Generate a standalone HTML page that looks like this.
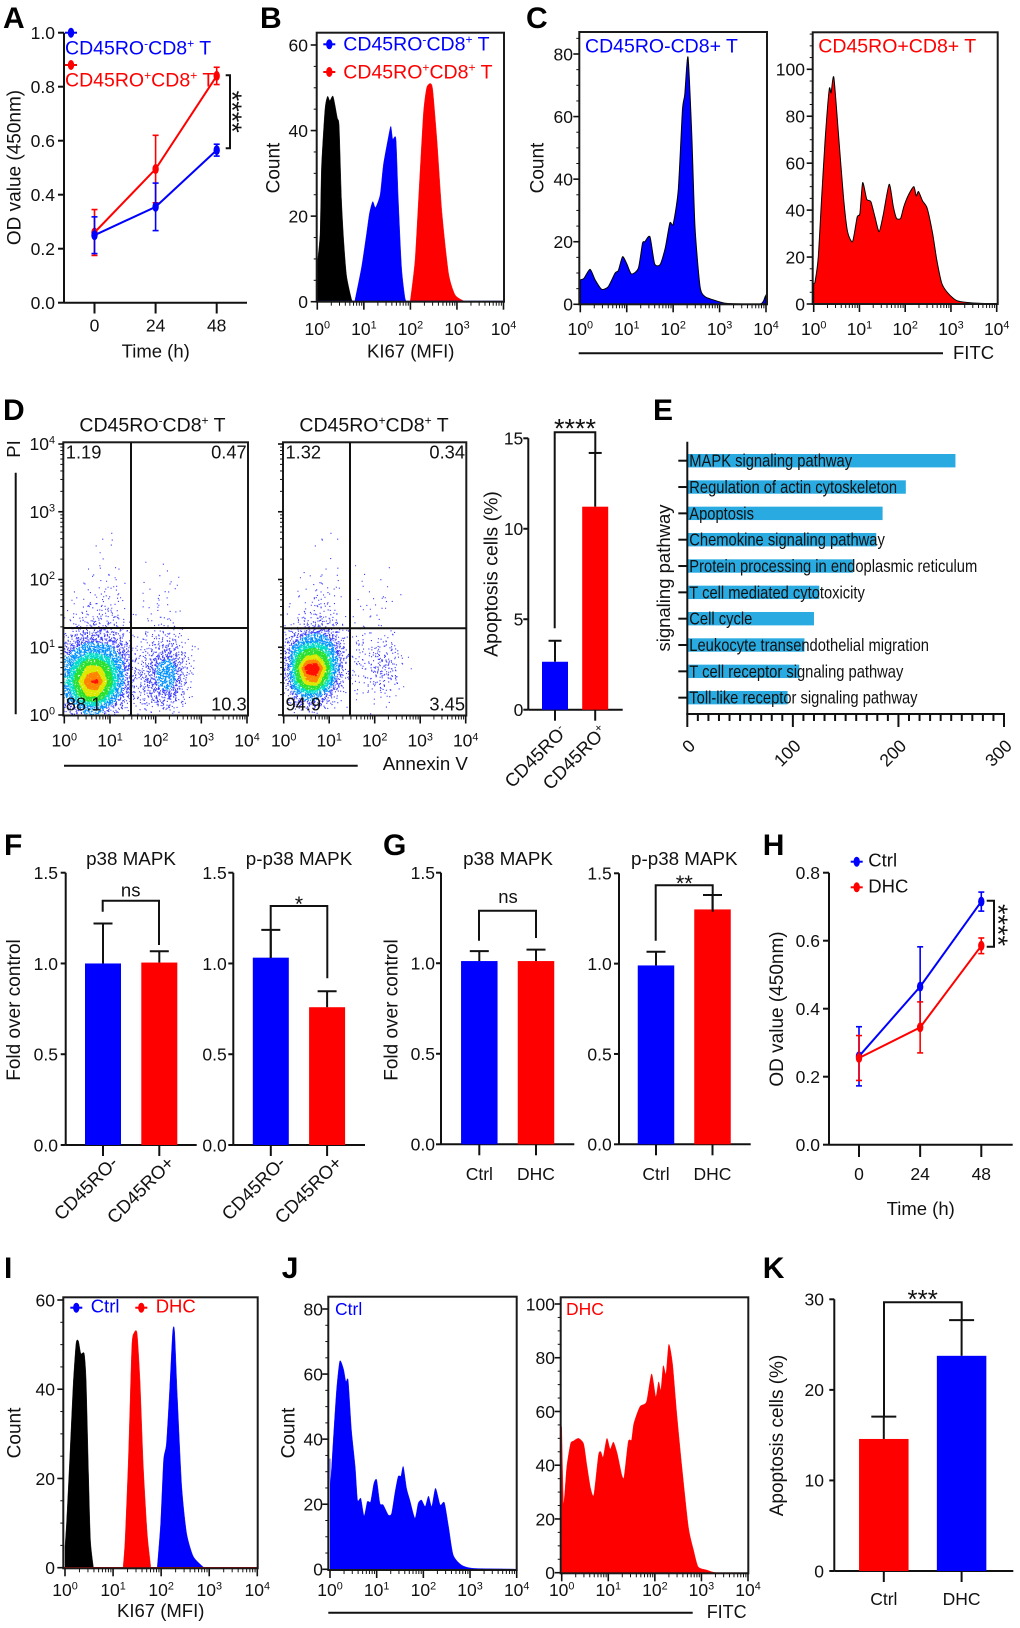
<!DOCTYPE html>
<html lang="en">
<head>
<meta charset="utf-8">
<title>CD45RO CD8 T cell figure</title>
<style>
html,body{margin:0;padding:0;background:#fff;}
svg{display:block;font-family:"Liberation Sans",Arial,sans-serif;}
text{white-space:pre;fill:#111;}
</style>
</head>
<body>
<svg id="figure" xmlns="http://www.w3.org/2000/svg" width="1020" height="1628" viewBox="0 0 1020 1628">
  <rect x="0" y="0" width="1020" height="1628" fill="#fff"/>
  <g id="panel-a"></g>
  <g id="panel-b"></g>
  <g id="panel-c"></g>
  <g id="panel-d"></g>
  <g id="panel-e"></g>
  <g id="panel-f"></g>
  <g id="panel-g"></g>
  <g id="panel-h"></g>
  <g id="panel-i"></g>
  <g id="panel-j"></g>
  <g id="panel-k"></g>
</svg>
<script>
/* ---------- Panel A ---------- */
const aTimes=[0,24,48];
const aTimeLabels=['0','24','48'];
const aTicks=[0,0.2,0.4,0.6,0.8,1.0];
const aTickLabels=['0.0','0.2','0.4','0.6','0.8','1.0'];
const aBlue=[0.25,0.355,0.565];
const aBlueErr=[0.068,0.088,0.022];
const aRed=[0.26,0.495,0.84];
const aRedErr=[0.085,0.125,0.032];

/* ---------- Shared flow axis ---------- */
const logDecades=[0,1,2,3,4];
const logExponents=['0','1','2','3','4'];

/* ---------- Panel B (decade = log10 MFI, count) ---------- */
const bTicks=[0,20,40,60];
const bBlackDec=[0,0.06,0.09,0.165,0.22,0.27,0.34,0.43,0.47,0.52,0.57,0.63,0.74,0.79];
const bBlackCount=[9,16,31.5,45,48,47,48,43,41,24,14,6,0.4,0];
const bBlueDec=[0.81,0.95,1.06,1.12,1.19,1.25,1.35,1.42,1.53,1.58,1.62,1.69,1.74,1.81,1.885,1.935];
const bBlueCount=[0.4,8,16,20.6,23.4,22,25,32,38.6,41,38,38,24,8,0.8,0];
const bRedDec=[2.0,2.1,2.19,2.28,2.35,2.43,2.48,2.57,2.68,2.82,2.96,3.14];
const bRedCount=[0.4,9.7,26.9,44,50,51,49.5,37.8,20.6,6.6,1.6,0.2];

/* ---------- Panel C ---------- */
const cLeftTicks=[0,20,40,60,80];
const cLeftDec=[0,0.08,0.21,0.32,0.46,0.6,0.75,0.82,0.91,1.0,1.1,1.25,1.34,1.39,1.5,1.6,1.72,1.83,1.93,2.0,2.11,2.2,2.25,2.32,2.4,2.47,2.58,2.69,2.87,3.15,3.87,3.98,4];
const cLeftCount=[7.8,8.3,11.2,7.8,4.8,5.6,10,10.8,15.2,13,9.7,11.5,19.5,20,21.6,13,12.7,18,26,25.6,36.5,62,67,79,54.6,24.8,5.6,2.4,1.4,0.3,0.1,2.4,3];
const cRightTicks=[0,20,40,60,80,100];
const cRightDec=[0,0.03,0.1,0.17,0.25,0.34,0.38,0.44,0.54,0.65,0.74,0.85,0.95,1.01,1.07,1.16,1.25,1.34,1.43,1.52,1.65,1.74,1.81,1.9,1.97,2.07,2.19,2.24,2.29,2.38,2.48,2.6,2.69,2.8,2.94,3.13,3.45,4];
const cRightCount=[8.8,9.5,20,44,70,91.5,90,96.6,72.7,45.7,30.8,26.6,37,38.6,51.7,44.6,43.6,37,30.8,38,51,41.5,36.5,36.5,41.5,46.4,50,46,47.9,43.9,40.8,30,18.8,8.8,4.5,1.4,0.5,0];

/* ---------- Panel D: events per 0.2 x 0.2 decade bin, rows top (PI 2.6-2.8) to bottom (PI 0-0.2) ---------- */
const dLeftBins=[
[0,0,0,0,0,2,0,0,0,0,0,0,0,0,0],
[0,0,0,2,1,1,0,0,0,0,0,0,0,0,0],
[0,0,0,1,1,1,0,0,0,1,0,0,0,0,0],
[0,0,1,2,2,3,0,0,0,0,1,2,1,0,0],
[0,1,2,3,4,5,1,0,1,1,2,3,1,0,0],
[1,3,4,6,8,6,2,0,2,2,3,3,0,0,0],
[3,5,8,12,12,8,3,1,2,3,4,3,1,0,0],
[8,14,20,24,22,16,8,3,3,4,8,8,2,0,0],
[30,45,60,60,55,40,25,6,5,10,18,22,10,2,0],
[70,110,150,150,130,90,50,14,10,25,45,55,30,6,1],
[120,220,330,340,260,150,70,20,20,50,90,110,50,10,1],
[150,300,420,450,320,170,70,20,22,50,90,100,45,8,0],
[110,220,320,320,220,110,40,15,18,35,50,55,25,4,0],
[30,60,80,90,60,25,8,4,4,8,12,12,4,0,0]];
const dRightBins=[
[0,0,0,0,1,2,0,0,0,0,0,0,0,0,0],
[0,0,0,1,1,0,0,0,0,0,0,0,0,0,0],
[0,0,0,0,0,1,0,1,0,0,0,0,0,0,0],
[0,0,1,2,2,2,0,0,1,1,0,1,0,0,0],
[0,1,2,4,4,3,1,0,1,0,1,2,0,0,0],
[1,2,4,6,7,6,1,0,2,3,3,2,1,0,0],
[2,4,6,12,12,6,1,0,3,3,1,1,0,0,0],
[4,14,25,34,30,14,4,1,3,2,2,2,0,0,0],
[20,70,110,120,100,50,15,4,6,6,6,8,2,0,0],
[50,200,280,300,220,90,25,8,8,10,18,18,6,1,0],
[60,280,480,500,320,120,25,8,8,12,28,28,8,1,0],
[40,220,360,380,220,70,12,4,6,10,18,15,4,0,0],
[12,70,110,100,50,15,3,1,2,3,5,4,1,0,0],
[0,4,12,12,4,1,0,0,0,1,1,0,0,0,0]];
const dLeftQuadrants=['1.19','0.47','88.1','10.3'];
const dRightQuadrants=['1.32','0.34','94.9','3.45'];
const dBarTicks=[0,5,10,15];
const dBarVals=[2.65,11.22];
const dBarErrs=[1.16,2.97];

/* ---------- Panel E ---------- */
const ePathways=['MAPK signaling pathway','Regulation of actin cytoskeleton','Apoptosis','Chemokine signaling pathway','Protein processing in endoplasmic reticulum','T cell mediated cytotoxicity','Cell cycle','Leukocyte transendothelial migration','T cell receptor signaling pathway','Toll-like receptor signaling pathway'];
const eCounts=[254,207,185,179,157,125,120,111,106,95];
const eTicks=[0,100,200,300];

/* ---------- Panels F, G ---------- */
const fgTicks=[0,0.5,1.0,1.5];
const fgTickLabels=['0.0','0.5','1.0','1.5'];
const f1Vals=[1.0,1.005];
const f1Errs=[0.22,0.062];
const f2Vals=[1.032,0.759];
const f2Errs=[0.153,0.088];
const g1Vals=[1.012,1.012];
const g1Errs=[0.055,0.063];
const g2Vals=[0.99,1.30];
const g2Errs=[0.076,0.08];
const groupCats=['Ctrl','DHC'];

/* ---------- Panel H ---------- */
const hTimes=[0,24,48];
const hTimeLabels=['0','24','48'];
const hTicks=[0,0.2,0.4,0.6,0.8];
const hTickLabels=['0.0','0.2','0.4','0.6','0.8'];
const hBlue=[0.26,0.465,0.715];
const hBlueErr=[0.087,0.117,0.028];
const hRed=[0.255,0.345,0.585];
const hRedErr=[0.066,0.075,0.023];

/* ---------- Panel I ---------- */
const iTicks=[0,20,40,60];
const iBlackDec=[0,0.035,0.10,0.17,0.23,0.28,0.33,0.40,0.44,0.49,0.53,0.59];
const iBlackCount=[4.7,10.7,24.9,41,50.3,50.8,48,48,42,21,6.2,0.2];
const iRedDec=[1.21,1.25,1.32,1.39,1.44,1.50,1.56,1.63,1.71,1.78];
const iRedCount=[0.2,6.2,24.9,49.6,52.7,52.5,42,22.6,7.7,0.6];
const iBlueDec=[1.92,1.99,2.05,2.11,2.18,2.24,2.28,2.34,2.43,2.53,2.67,2.88];
const iBlueCount=[0.2,10,24,27.9,40.6,52.9,52.9,37.6,18,7.7,2.5,0.1];

/* ---------- Panel J ---------- */
const jLeftTicks=[0,20,40,60,80];
const jLeftDec=[0,0.01,0.07,0.14,0.21,0.29,0.34,0.39,0.46,0.54,0.59,0.66,0.73,0.8,0.87,0.94,1.0,1.07,1.14,1.25,1.32,1.39,1.46,1.52,1.57,1.64,1.71,1.82,1.89,1.96,2.04,2.11,2.18,2.26,2.36,2.45,2.54,2.64,2.82,3.07,3.86,4];
const jLeftCount=[34,26,39.7,55,64,61.5,57.7,58,42.8,31.5,21.3,21.8,16.4,20.8,20.8,26.4,27.5,20.3,19.8,16.7,17.2,23.4,28.5,28.7,31.6,24.9,21.3,15.7,20.3,21.3,19.3,22.5,19.3,24.9,19.8,20.5,13.1,4.4,1.3,0.3,0.1,0];
const jRightTicks=[0,20,40,60,80,100];
const jRightDec=[0,0.04,0.11,0.19,0.25,0.36,0.47,0.54,0.62,0.69,0.79,0.84,0.89,0.97,1.04,1.11,1.19,1.29,1.34,1.43,1.5,1.55,1.68,1.82,1.93,2.02,2.08,2.13,2.18,2.24,2.3,2.38,2.47,2.58,2.72,2.83,2.93,3.11,3.33,4];
const jRightCount=[54.3,25.8,39.5,48,49,50,48,40,31.4,29,43.8,45,43,50,46,48.6,44.5,36.4,35.7,48.8,49.4,55.6,61.8,63.6,74,65.5,71,68,77,74,85,77.7,59.3,39.5,17,8.4,2.2,1,0,0];

/* ---------- Panel K ---------- */
const kTicks=[0,10,20,30];
const kVals=[14.58,23.76];
const kErrs=[2.47,3.94];

/* ---------- Drawing helpers ---------- */
const NS='http://www.w3.org/2000/svg';
const INK='#111';
const BLUE='#0000ff';
const RED='#ff0000';
const TICK_FS=17.5;
const LABEL_FS=19;

function mk(parent,tag,attrs,name){
  const el=document.createElementNS(NS,tag);
  for(const k in attrs){el.setAttribute(k,attrs[k]);}
  
  
  parent.appendChild(el);
  return el;
}
function linear(v0,p0,v1,p1){return v=>p0+(v-v0)*(p1-p0)/(v1-v0);}
function seg(g,x1,y1,x2,y2,name,stroke,w){
  return mk(g,'line',{x1:x1,y1:y1,x2:x2,y2:y2,stroke:stroke||INK,'stroke-width':w||2},name);
}
function txt(g,x,y,s,name,o){
  o=o||{};
  const a={x:x,y:y,'font-size':o.size||TICK_FS,'text-anchor':o.anchor||'start'};
  a.style='fill:'+(o.fill||INK);
  if(o.weight){a['font-weight']=o.weight;}
  if(o.rot!==undefined){a.transform='rotate('+o.rot+' '+x+' '+y+')';}
  if(o.transform){a.transform=o.transform;a.x=0;a.y=0;}
  const el=mk(g,'text',a,name);
  el.textContent=s;
  return el;
}
function rich(g,x,y,parts,name,o){
  o=o||{};
  const size=o.size||TICK_FS;
  const a={x:x,y:y,'font-size':size,'text-anchor':o.anchor||'start'};
  a.style='fill:'+(o.fill||INK);
  if(o.rot!==undefined){a.transform='rotate('+o.rot+' '+x+' '+y+')';}
  const el=mk(g,'text',a,name);
  let raised=false;
  parts.forEach(p=>{
    const sup=p[1]===1;
    const ta={};
    if(sup&&!raised){ta.dy=-size*0.36;}
    if(!sup&&raised){ta.dy=size*0.36;}
    if(sup){ta['font-size']=size*0.62;}
    raised=sup;
    const ts=mk(el,'tspan',ta,sup?'superscript':'text-run');
    ts.textContent=p[0];
  });
  return el;
}
function poly(g,pts,name,stroke,w){
  return mk(g,'polyline',{points:pts.map(p=>p.join(',')).join(' '),fill:'none',stroke:stroke||INK,'stroke-width':w||2},name);
}
function letter(g,x,y,s){
  txt(g,x,y,s,'panel-letter-'+s.toLowerCase(),{size:30,weight:'bold',fill:'#000'});
}
function yTitle(g,x,y,s,name,size){
  txt(g,x,y,s,name,{size:size||LABEL_FS,anchor:'middle',rot:-90});
}
function stars(g,x,y,s,size,rot){
  const o={size:size,anchor:'middle'};
  if(rot!==undefined){o.rot=rot;}
  txt(g,x,y,s,'significance-stars',o);
}
function yTicks(g,x,scale,ticks,labels,endX,len){
  ticks.forEach((t,i)=>{
    seg(g,x-len,scale(t),x,scale(t),'y-tick');
    txt(g,endX,scale(t)+6.3,labels[i],'y-tick-label',{anchor:'end'});
  });
}
function legendMark(g,x,y,color){
  seg(g,x-6,y,x+6,y,'legend-line',color,2);
  mk(g,'ellipse',{cx:x,cy:y,rx:3.2,ry:5,fill:color},'legend-marker');
}
function trendSeries(g,xScale,yScale,times,vals,errs,color,name){
  const pts=times.map((t,i)=>[xScale(t),yScale(vals[i])]);
  poly(g,pts,name+'-line',color,2);
  times.forEach((t,i)=>{
    const x=xScale(t);
    seg(g,x,yScale(vals[i]-errs[i]),x,yScale(vals[i]+errs[i]),name+'-error-bar',color,1.6);
    seg(g,x-3,yScale(vals[i]+errs[i]),x+3,yScale(vals[i]+errs[i]),name+'-error-cap',color,1.6);
    seg(g,x-3,yScale(vals[i]-errs[i]),x+3,yScale(vals[i]-errs[i]),name+'-error-cap',color,1.6);
    mk(g,'ellipse',{cx:x,cy:yScale(vals[i]),rx:3.2,ry:5,fill:color},name+'-point');
  });
}
function histogram(g,xScale,yScale,decs,counts,fill,stroke,name){
  const pts=decs.map((v,i)=>[xScale(v),yScale(counts[i])]);
  const base=yScale(0);
  let d='M'+pts[0][0].toFixed(2)+' '+base+' L'+pts[0][0].toFixed(2)+' '+pts[0][1].toFixed(2);
  for(let i=0;i<pts.length-1;i++){
    const p0=pts[Math.max(0,i-1)],p1=pts[i],p2=pts[i+1],p3=pts[Math.min(pts.length-1,i+2)];
    const t=0.11;
    const c1x=p1[0]+(p2[0]-p0[0])*t,c1y=Math.min(base,p1[1]+(p2[1]-p0[1])*t);
    const c2x=p2[0]-(p3[0]-p1[0])*t,c2y=Math.min(base,p2[1]-(p3[1]-p1[1])*t);
    d+=' C'+c1x.toFixed(2)+' '+c1y.toFixed(2)+' '+c2x.toFixed(2)+' '+c2y.toFixed(2)+' '+p2[0].toFixed(2)+' '+p2[1].toFixed(2);
  }
  d+=' L'+pts[pts.length-1][0].toFixed(2)+' '+base+' Z';
  const a={d:d,fill:fill};
  if(stroke){a.stroke=stroke;a['stroke-width']=1;a['stroke-linejoin']='round';}
  else{a.stroke=fill;a['stroke-width']=0.4;}
  mk(g,'path',a,name);
}
function box(g,x0,y0,x1,y1,name){
  mk(g,'rect',{x:x0,y:y0,width:x1-x0,height:y1-y0,fill:'none',stroke:'#1a1a1a','stroke-width':2},name);
}
function logXAxis(g,scale,y,labelY,major,minor,withLabels){
  logDecades.forEach((d,i)=>{
    seg(g,scale(d),y,scale(d),y+major,'x-major-tick',INK,1.6);
    if(i<logDecades.length-1){
      for(let m=2;m<10;m++){
        const p=scale(d+Math.log10(m));
        seg(g,p,y,p,y+minor,'x-minor-tick',INK,1);
      }
    }
    if(withLabels!==false){
      rich(g,scale(d),labelY,[['10',0],[logExponents[i],1]],'x-tick-label',{anchor:'middle'});
    }
  });
}
function logYAxis(g,scale,x,endX,major,minor,withLabels){
  logDecades.forEach((d,i)=>{
    seg(g,x-major,scale(d),x,scale(d),'y-major-tick',INK,1.6);
    if(i<logDecades.length-1){
      for(let m=2;m<10;m++){
        const p=scale(d+Math.log10(m));
        seg(g,x-minor,p,x,p,'y-minor-tick',INK,1);
      }
    }
    if(withLabels!==false){
      rich(g,endX,scale(d)+6,[['10',0],[logExponents[i],1]],'y-tick-label',{anchor:'end'});
    }
  });
}
function countAxis(g,x,scale,ticks,endX,minorStep,frameTop){
  for(let v=0;scale(v)>frameTop+1;v+=minorStep){
    if(ticks.indexOf(v)<0){seg(g,x-3,scale(v),x,scale(v),'y-minor-tick',INK,1);}
  }
  ticks.forEach(t=>{
    seg(g,x-6,scale(t),x,scale(t),'y-major-tick',INK,1.6);
    txt(g,endX,scale(t)+6.3,String(t),'y-tick-label',{anchor:'end'});
  });
}
function barPanel(g,c){
  seg(g,c.axisX,c.scale(c.ticks[c.ticks.length-1]),c.axisX,c.scale(0),'y-axis');
  seg(g,c.axisX,c.scale(0),c.axisEnd,c.scale(0),'x-axis');
  yTicks(g,c.axisX,c.scale,c.ticks,c.labels,c.endX,5);
  c.vals.forEach((v,i)=>{
    const cx=c.center0+i*c.step;
    const y=c.scale(v);
    mk(g,'rect',{x:cx-c.barW/2,y:y,width:c.barW,height:c.scale(0)-y,fill:c.colors[i]},'bar-'+(i+1));
    const top=c.scale(v+c.errs[i]);
    seg(g,cx,y,cx,top,'bar-error-stem');
    seg(g,cx-c.capW/2,top,cx+c.capW/2,top,'bar-error-cap');
    seg(g,cx,c.scale(0),cx,c.scale(0)+11,'x-tick');
    if(c.catParts){
      rich(g,cx+c.catDx,c.catY,c.catParts[i],'category-label',{anchor:'end',rot:-45,size:c.catSize||18.5});
    }else{
      txt(g,cx,c.catY,c.cats[i],'category-label',{anchor:'middle'});
    }
  });
}
function halton(i,b){let f=1,r=0;while(i>0){f/=b;r+=f*(i%b);i=Math.floor(i/b);}return r;}
const densityColors=['#1a1aff','#0090ff','#00dcc8','#28e030','#dce800','#ff8400','#ff1000'];
const densityLevels=[0,70,140,210,300,370,430];
function densityAt(bins,c,r){
  /* bilinear lookup on bin centres; r counts from the bottom row */
  const nR=bins.length,nC=bins[0].length;
  const cc=Math.max(0,Math.min(nC-1.001,c-0.5));
  const rr=Math.max(0,Math.min(nR-1.001,r-0.5));
  const c0=Math.floor(cc),r0=Math.floor(rr),fc=cc-c0,fr=rr-r0;
  const at=(ri,ci)=>bins[nR-1-ri][ci];
  return at(r0,c0)*(1-fc)*(1-fr)+at(r0,c0+1)*fc*(1-fr)+at(r0+1,c0)*(1-fc)*fr+at(r0+1,c0+1)*fc*fr;
}
function flowPlot(g,bins,xScale,yScale,binSize,xMin,xMax,yMin,yMax,name){
  const paths=densityColors.map(()=> '');
  let seq=1;
  const nR=bins.length;
  bins.forEach((row,ri)=>{
    const bottomIdx=nR-1-ri;
    row.forEach((n,ci)=>{
      for(let k=0;k<n;k++){
        const u=halton(seq,2)+halton(seq,5)-1,v=halton(seq,3)+halton(seq,7)-1;seq++;
        const cf=ci+0.5+u*1.05;
        const rf=bottomIdx+0.5+v*1.05;
        const px=xScale(cf*binSize),py=yScale(rf*binSize);
        if(py>yMin-1||py<yMax||px>xMax||px<xMin){continue;}
        const d=densityAt(bins,cf,rf);
        let lvl=0;
        densityLevels.forEach((t,i)=>{if(d>=t){lvl=i;}});
        paths[lvl]+='M'+px.toFixed(1)+' '+py.toFixed(1)+'h1.1v1.1h-1.1z';
      }
    });
  });
  paths.forEach((d,i)=>{
    if(d){mk(g,'path',{d:d,fill:densityColors[i],'fill-opacity':i===0?0.85:1},name+'-density-level-'+i);}
  });
}

/* ---------- Panel A draw ---------- */
(function(){
  const g=document.getElementById('panel-a');
  letter(g,3,28,'A');
  const y=linear(0,302.7,1,32.7),x=linear(0,94.5,48,216.7);
  seg(g,64,y(1),64,y(0),'y-axis');
  seg(g,64,y(0),247,y(0),'x-axis');
  yTicks(g,64,y,aTicks,aTickLabels,55,6);
  aTimes.forEach((t,i)=>{
    seg(g,x(t),y(0),x(t),313.5,'x-tick');
    txt(g,x(t),331.7,aTimeLabels[i],'x-tick-label',{anchor:'middle'});
  });
  txt(g,155.7,357.3,'Time (h)','x-axis-title',{anchor:'middle',size:18.5});
  yTitle(g,20.7,167.5,'OD value (450nm)','y-axis-title');
  trendSeries(g,x,y,aTimes,aRed,aRedErr,RED,'series-cd45ro-positive');
  trendSeries(g,x,y,aTimes,aBlue,aBlueErr,BLUE,'series-cd45ro-negative');
  legendMark(g,71,32.7,BLUE);
  rich(g,65,54.3,[['CD45RO',0],['-',1],['CD8',0],['+',1],[' T',0]],'legend-label-negative',{size:19.5,fill:BLUE});
  legendMark(g,71,65,RED);
  rich(g,65,86.7,[['CD45RO',0],['+',1],['CD8',0],['+',1],[' T',0]],'legend-label-positive',{size:19.5,fill:RED});
  poly(g,[[225.7,75.3],[230,75.3],[230,148.3],[225.7,148.3]],'significance-bracket');
  stars(g,223,111.7,'****',27,90);
})();

/* ---------- Panel B draw ---------- */
(function(){
  const g=document.getElementById('panel-b');
  letter(g,260,28,'B');
  const x=linear(0,317.3,4,503.5),y=linear(0,301.7,60,45);
  histogram(g,x,y,bBlackDec,bBlackCount,'#000',null,'histogram-isotype');
  histogram(g,x,y,bBlueDec,bBlueCount,BLUE,null,'histogram-cd45ro-negative');
  histogram(g,x,y,bRedDec,bRedCount,RED,null,'histogram-cd45ro-positive');
  seg(g,317,y(0)-0.5,504,y(0)-0.5,'histogram-baseline',BLUE,1);
  box(g,316.7,32.7,504,301.7,'plot-frame');
  countAxis(g,316.7,y,bTicks,308,5,32.7);
  logXAxis(g,x,301.7,335,8,4);
  txt(g,410.7,357.3,'KI67 (MFI)','x-axis-title',{anchor:'middle',size:18.5});
  yTitle(g,279.5,168,'Count','y-axis-title');
  legendMark(g,329.3,44.3,BLUE);
  rich(g,343.3,50.7,[['CD45RO',0],['-',1],['CD8',0],['+',1],[' T',0]],'legend-label-negative',{size:19.5,fill:BLUE});
  legendMark(g,329.3,72,RED);
  rich(g,343.3,78.3,[['CD45RO',0],['+',1],['CD8',0],['+',1],[' T',0]],'legend-label-positive',{size:19.5,fill:RED});
})();

/* ---------- Panel C draw ---------- */
(function(){
  const g=document.getElementById('panel-c');
  letter(g,526,28,'C');
  const x1=linear(0,580.3,4,766),y1=linear(0,304.3,80,54);
  histogram(g,x1,y1,cLeftDec,cLeftCount,BLUE,'#000','histogram-cd45ro-negative');
  box(g,579.3,32,767,304.3,'plot-frame-left');
  countAxis(g,579.3,y1,cLeftTicks,573,5,32);
  logXAxis(g,x1,304.3,335,8,4);
  txt(g,585,52.7,'CD45RO-CD8+ T','plot-title-left',{size:19.5,fill:BLUE});
  const x2=linear(0,813.7,4,996.7),y2=linear(0,304,100,69.3);
  histogram(g,x2,y2,cRightDec,cRightCount,RED,'#000','histogram-cd45ro-positive');
  box(g,812.7,32.3,997.7,304,'plot-frame-right');
  countAxis(g,812.7,y2,cRightTicks,805,5,32.3);
  logXAxis(g,x2,304,335,8,4);
  txt(g,818.3,52.7,'CD45RO+CD8+ T','plot-title-right',{size:19.5,fill:RED});
  yTitle(g,543.3,168,'Count','y-axis-title');
  seg(g,578.7,353.3,943,353.3,'fitc-axis-line');
  txt(g,953,359,'FITC','x-axis-title',{size:18.5});
})();

/* ---------- Panel D draw ---------- */
(function(){
  const g=document.getElementById('panel-d');
  letter(g,3,420,'D');
  const y=linear(0,715,4,444);
  const plots=[
    {bins:dLeftBins,q:dLeftQuadrants,x0:63.3,x1:248,gx:131,gy:628,sx:linear(0,64.3,4,247),name:'flow-plot-negative',labels:true},
    {bins:dRightBins,q:dRightQuadrants,x0:283,x1:466.3,gx:350,gy:628.3,sx:linear(0,283.7,4,465.7),name:'flow-plot-positive',labels:false}
  ];
  plots.forEach(p=>{
    flowPlot(g,p.bins,p.sx,y,0.2,p.x0,p.x1,715,442.3,p.name);
    box(g,p.x0,442.3,p.x1,715.5,p.name+'-frame');
    seg(g,p.gx,442.3,p.gx,715.5,p.name+'-vertical-gate');
    seg(g,p.x0,p.gy,p.x1,p.gy,p.name+'-horizontal-gate');
    logYAxis(g,y,p.x0,55,5,3,p.labels);
    logXAxis(g,p.sx,715.5,746.7,8,4);
    txt(g,p.x0+2.5,458.3,p.q[0],'quadrant-upper-left',{size:18.3});
    txt(g,p.x1-1.3,458.3,p.q[1],'quadrant-upper-right',{size:18.3,anchor:'end'});
    txt(g,p.x0+2.5,710.7,p.q[2],'quadrant-lower-left',{size:18.3});
    txt(g,p.x1-1.3,710.7,p.q[3],'quadrant-lower-right',{size:18.3,anchor:'end'});
  });
  rich(g,152.5,431.7,[['CD45RO',0],['-',1],['CD8',0],['+',1],[' T',0]],'plot-title-negative',{anchor:'middle',size:19.5});
  rich(g,374,431.7,[['CD45RO',0],['+',1],['CD8',0],['+',1],[' T',0]],'plot-title-positive',{anchor:'middle',size:19.5});
  txt(g,20,449,'PI','y-axis-title',{anchor:'middle',size:18.5,rot:-90});
  seg(g,15.7,472.7,15.7,714.3,'pi-axis-line');
  seg(g,64,765.7,357.7,765.7,'annexin-axis-line');
  txt(g,382.7,770,'Annexin V','x-axis-title',{size:18.7});
  const ys=linear(0,709.7,15,438.3);
  barPanel(g,{axisX:528.3,axisEnd:622.7,scale:ys,ticks:dBarTicks,labels:dBarTicks.map(String),endX:523.3,
    center0:555,step:40.2,barW:26,capW:13,vals:dBarVals,errs:dBarErrs,colors:[BLUE,RED],
    catParts:[[['CD45RO',0],['-',1]],[['CD45RO',0],['+',1]]],catDx:13,catY:733,catSize:18.5});
  poly(g,[[554.7,628.3],[554.7,432.3],[595.3,432.3],[595.3,453]],'significance-bracket');
  stars(g,575,437.4,'****',27);
  yTitle(g,497.3,574,'Apoptosis cells (%)','y-axis-title',19.5);
})();

/* ---------- Panel E draw ---------- */
(function(){
  const g=document.getElementById('panel-e');
  letter(g,653,420,'E');
  const x=linear(0,687.3,300,1004);
  const band=i=>460.7+i*26.33;
  eCounts.forEach((v,i)=>{
    mk(g,'rect',{x:x(0),y:band(i)-6.7,width:x(v)-x(0),height:13.4,fill:'#29abe2'},'pathway-bar');
    seg(g,x(0)-9,band(i),x(0),band(i),'y-tick');
  });
  ePathways.forEach((s,i)=>{
    txt(g,0,0,s,'pathway-label',{size:17.5,transform:'translate(689.3 '+(band(i)+6)+') scale(0.842 1)'});
  });
  seg(g,687.3,441.7,687.3,714,'y-axis');
  seg(g,686.3,714,1005,714,'x-axis');
  for(let v=0;v<=300;v+=10){
    const major=eTicks.indexOf(v)>=0;
    seg(g,x(v),714,x(v),714+(major?13:7),major?'x-major-tick':'x-minor-tick');
  }
  eTicks.forEach(t=>{
    txt(g,x(t)+9,747,String(t),'x-tick-label',{anchor:'end',rot:-45});
  });
  txt(g,670,578,'signaling pathway','y-axis-title',{anchor:'middle',size:18.5,rot:-90});
})();

/* ---------- Panel F draw ---------- */
(function(){
  const g=document.getElementById('panel-f');
  letter(g,4,855,'F');
  const y=linear(0,1145,1.5,872.7);
  const cats=[[['CD45RO-',0]],[['CD45RO+',0]]];
  barPanel(g,{axisX:65.7,axisEnd:196.7,scale:y,ticks:fgTicks,labels:fgTickLabels,endX:58,center0:103,step:56.3,barW:36,capW:19,
    vals:f1Vals,errs:f1Errs,colors:[BLUE,RED],catParts:cats,catDx:16,catY:1164});
  barPanel(g,{axisX:233.3,axisEnd:365,scale:y,ticks:fgTicks,labels:fgTickLabels,endX:226.7,center0:270.8,step:56.3,barW:36,capW:19,
    vals:f2Vals,errs:f2Errs,colors:[BLUE,RED],catParts:cats,catDx:16,catY:1164});
  txt(g,131,865,'p38 MAPK','chart-title-p38',{anchor:'middle',size:18.8});
  txt(g,299,865,'p-p38 MAPK','chart-title-phospho-p38',{anchor:'middle',size:18.8});
  yTitle(g,20,1010,'Fold over control','y-axis-title');
  poly(g,[[102.7,911.7],[102.7,900.7],[159,900.7],[159,945]],'significance-bracket-ns');
  txt(g,130.7,896.7,'ns','significance-ns',{anchor:'middle',size:18.5});
  poly(g,[[270.7,958],[270.7,906],[327.3,906],[327.3,978.3]],'significance-bracket-star');
  stars(g,299,911,'*',21);
})();

/* ---------- Panel G draw ---------- */
(function(){
  const g=document.getElementById('panel-g');
  letter(g,383,855,'G');
  const y1=linear(0,1144.3,1.5,872.7),y2=linear(0,1144.3,1.5,873.3);
  barPanel(g,{axisX:441,axisEnd:574.3,scale:y1,ticks:fgTicks,labels:fgTickLabels,endX:435,center0:479.3,step:56.7,barW:36.5,capW:19,
    vals:g1Vals,errs:g1Errs,colors:[BLUE,RED],cats:groupCats,catY:1180});
  barPanel(g,{axisX:619,axisEnd:750.7,scale:y2,ticks:fgTicks,labels:fgTickLabels,endX:611.7,center0:656,step:56.5,barW:36.5,capW:19,
    vals:g2Vals,errs:g2Errs,colors:[BLUE,RED],cats:groupCats,catY:1180});
  txt(g,508,865,'p38 MAPK','chart-title-p38',{anchor:'middle',size:18.8});
  txt(g,684.3,865,'p-p38 MAPK','chart-title-phospho-p38',{anchor:'middle',size:18.8});
  yTitle(g,397.7,1010,'Fold over control','y-axis-title');
  poly(g,[[479,940.7],[479,910.7],[536,910.7],[536,938]],'significance-bracket-ns');
  txt(g,508,903,'ns','significance-ns',{anchor:'middle',size:18.5});
  poly(g,[[655.7,940.7],[655.7,885.3],[712.7,885.3],[712.7,911.7]],'significance-bracket-stars');
  stars(g,684.3,891,'**',22);
})();

/* ---------- Panel H draw ---------- */
(function(){
  const g=document.getElementById('panel-h');
  letter(g,762.7,855,'H');
  const y=linear(0,1144.7,0.8,872.7),x=linear(0,859,48,981.3);
  seg(g,829,y(0.8),829,y(0),'y-axis');
  seg(g,829,y(0),1012.7,y(0),'x-axis');
  yTicks(g,829,y,hTicks,hTickLabels,820,6);
  hTimes.forEach((t,i)=>{
    seg(g,x(t),y(0),x(t),1157,'x-tick');
    txt(g,x(t),1180,hTimeLabels[i],'x-tick-label',{anchor:'middle'});
  });
  txt(g,920.7,1215,'Time (h)','x-axis-title',{anchor:'middle',size:18.5});
  yTitle(g,783,1009,'OD value (450nm)','y-axis-title');
  trendSeries(g,x,y,hTimes,hBlue,hBlueErr,BLUE,'series-ctrl');
  trendSeries(g,x,y,hTimes,hRed,hRedErr,RED,'series-dhc');
  legendMark(g,856.7,861.7,BLUE);
  txt(g,868.3,866.7,'Ctrl','legend-label-ctrl',{size:18.5});
  legendMark(g,856.7,887.3,RED);
  txt(g,868.3,892.3,'DHC','legend-label-dhc',{size:18.5});
  poly(g,[[986.7,900.7],[994,900.7],[994,946.7],[986.7,946.7]],'significance-bracket');
  stars(g,989,925,'****',27,90);
})();

/* ---------- Panel I draw ---------- */
(function(){
  const g=document.getElementById('panel-i');
  letter(g,4,1278,'I');
  const x=linear(0,65,4,257.3),y=linear(0,1567.7,60,1300);
  histogram(g,x,y,iBlackDec,iBlackCount,'#000',null,'histogram-isotype');
  histogram(g,x,y,iRedDec,iRedCount,RED,null,'histogram-dhc');
  histogram(g,x,y,iBlueDec,iBlueCount,BLUE,null,'histogram-ctrl');
  seg(g,64,y(0),257,y(0),'histogram-baseline',RED,1.4);
  box(g,63.3,1297.3,257.7,1568.3,'plot-frame');
  countAxis(g,63.3,y,iTicks,55,5,1297.3);
  logXAxis(g,x,1568.3,1596,8,4);
  txt(g,160.7,1617,'KI67 (MFI)','x-axis-title',{anchor:'middle',size:18.5});
  yTitle(g,20.7,1433,'Count','y-axis-title');
  legendMark(g,76.3,1307.7,BLUE);
  txt(g,90.7,1312.7,'Ctrl','legend-label-ctrl',{size:18.5,fill:BLUE});
  legendMark(g,141.3,1307.7,RED);
  txt(g,155.7,1312.7,'DHC','legend-label-dhc',{size:18.5,fill:RED});
})();

/* ---------- Panel J draw ---------- */
(function(){
  const g=document.getElementById('panel-j');
  letter(g,281.7,1278,'J');
  const x1=linear(0,330,4,516.7),y1=linear(0,1569.3,80,1309);
  histogram(g,x1,y1,jLeftDec,jLeftCount,BLUE,null,'histogram-ctrl');
  box(g,328.3,1296.7,516.7,1570,'plot-frame-left');
  countAxis(g,328.3,y1,jLeftTicks,323,5,1296.7);
  logXAxis(g,x1,1570,1596,8,4);
  txt(g,335,1315,'Ctrl','plot-label-ctrl',{fill:BLUE});
  const x2=linear(0,561.7,4,748),y2=linear(0,1572.7,100,1304);
  histogram(g,x2,y2,jRightDec,jRightCount,RED,null,'histogram-dhc');
  box(g,560.7,1297.3,748.3,1573.3,'plot-frame-right');
  countAxis(g,560.7,y2,jRightTicks,555,5,1297.3);
  logXAxis(g,x2,1573.3,1596,8,4);
  txt(g,566,1315,'DHC','plot-label-dhc',{fill:RED});
  yTitle(g,294.3,1433,'Count','y-axis-title');
  seg(g,328.3,1612.7,692.7,1612.7,'fitc-axis-line');
  txt(g,706.7,1618,'FITC','x-axis-title',{size:18});
})();

/* ---------- Panel K draw ---------- */
(function(){
  const g=document.getElementById('panel-k');
  letter(g,762.7,1278,'K');
  const y=linear(0,1571,30,1299.3);
  barPanel(g,{axisX:834.3,axisEnd:1013.3,scale:y,ticks:kTicks,labels:kTicks.map(String),endX:824,center0:883.8,step:77.8,barW:49.5,capW:25,
    vals:kVals,errs:kErrs,colors:[RED,BLUE],cats:groupCats,catY:1605});
  poly(g,[[884,1416],[884,1302.3],[961.7,1302.3],[961.7,1320]],'significance-bracket');
  stars(g,922.7,1308,'***',26);
  yTitle(g,783,1435.5,'Apoptosis cells (%)','y-axis-title');
})();
</script>
</body>
</html>
